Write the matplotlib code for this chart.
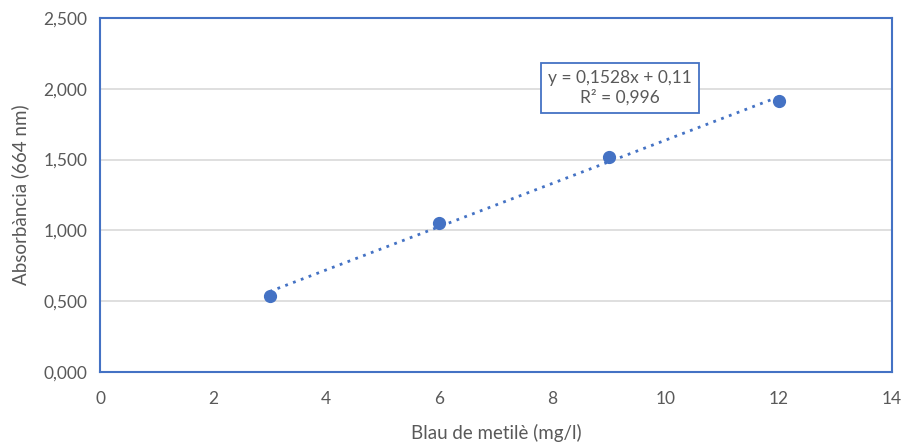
import numpy as np
import matplotlib.pyplot as plt

plt.rcParams['font.family'] = ['Lato', 'DejaVu Sans']

# calibration points
conc = [3, 6, 9, 12]
absorb = [0.537, 1.052, 1.518, 1.914]

# fitted trendline
slope = 0.1528
intercept = 0.11
r2 = 0.996

blue = '#4472C4'
grey = '#595959'

fig = plt.figure(figsize=(9.07, 4.42), dpi=100)
ax = fig.add_axes([100/907, 1 - 372/442, 792/907, 354/442])

ax.set_xlim(0, 14)
ax.set_ylim(0, 2.5)
ax.set_xticks(range(0, 15, 2))
ax.set_yticks(np.arange(0, 2.51, 0.5))
ax.set_yticklabels([f'{v:.3f}'.replace('.', ',') for v in np.arange(0, 2.51, 0.5)])
ax.yaxis.grid(True, color='#D9D9D9', lw=1.2)
ax.set_axisbelow(True)
for s in ax.spines.values():
    s.set_color(blue)
    s.set_linewidth(1.5)
ax.tick_params(length=0, colors=grey, labelsize=12.5)
ax.tick_params(axis='x', pad=14)
ax.tick_params(axis='y', pad=9)

xs = np.array([min(conc), max(conc)])
ax.plot(xs, slope * xs + intercept, ls=(0, (1, 2)), color=blue, lw=2)
ax.plot(conc, absorb, 'o', color=blue, ms=8.5, zorder=3)

eq = f'y = {slope}x + {intercept}'.replace('.', ',') + '\n' + f'R² = {r2}'.replace('.', ',')
ax.text(9.19, 2.006, eq, ha='center', va='center', color=grey, fontsize=12.5,
        linespacing=1.25,
        bbox=dict(boxstyle='square,pad=0.4', fc='white', ec=blue, lw=1.3))

ax.set_xlabel('Blau de metilè (mg/l)', color=grey, fontsize=13.5, labelpad=12)
ax.set_ylabel('Absorbància (664 nm)', color=grey, fontsize=13.5, labelpad=10)

plt.savefig('out.png', dpi=100)
